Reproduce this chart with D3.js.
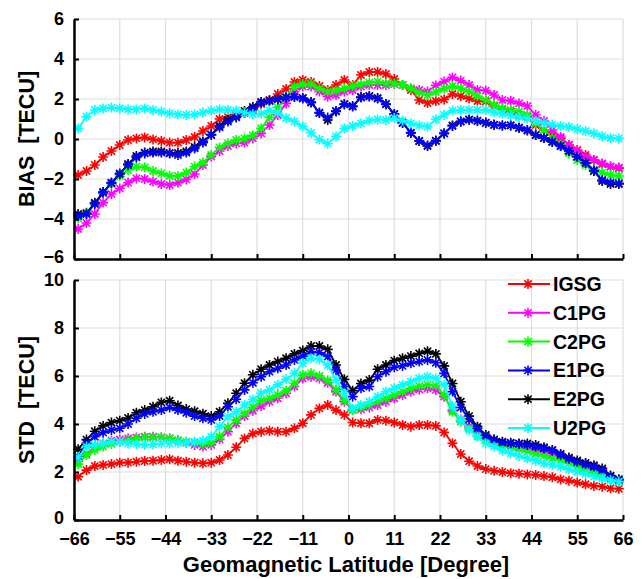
<!DOCTYPE html>
<html>
<head>
<meta charset="utf-8">
<script src="https://cdn.jsdelivr.net/npm/d3@7"></script>
<style>
  body { margin: 0; background: #fff; }
  text { font-family: "Liberation Sans", Arial, sans-serif; font-weight: bold; white-space: pre; }
</style>
</head>
<body>
<svg id="chart"></svg>
<script>
// Geomagnetic latitude of each sample
const lat = [-65,-63,-61,-59,-57,-55,-53,-51,-49,-47,-45,-43,-41,-39,-37,-35,-33,-31,-29,-27,-25,-23,
             -21,-19,-17,-15,-13,-11,-9,-7,-5,-3,-1,1,3,5,7,9,11,13,15,17,19,21,
             23,25,27,29,31,33,35,37,39,41,43,45,47,49,51,53,55,57,59,61,63,65];

const seriesNames = ["IGSG", "C1PG", "C2PG", "E1PG", "E2PG", "U2PG"];
const seriesColors = ["#ff0000", "#ff00ff", "#00ff00", "#0000ff", "#000000", "#00ffff"];

// BIAS [TECU]
const biasIGSG = [-1.8,-1.6,-1.3,-0.9,-0.6,-0.3,-0.05,0.03,0.08,-0.02,-0.1,-0.18,-0.18,-0.05,0.1,0.4,0.65,1.0,1.1,1.2,1.3,1.45,
                  1.75,1.95,2.25,2.5,2.85,2.95,2.85,2.65,2.45,2.7,2.95,2.7,3.2,3.35,3.35,3.25,3.0,2.7,2.45,1.95,1.8,1.9,
                  1.98,2.25,2.15,2.03,1.9,1.87,1.65,1.48,1.37,1.2,1.12,0.7,0.45,0.2,0.03,-0.3,-0.55,-0.8,-1.05,-1.25,-1.38,-1.47];
const biasC1PG = [-4.5,-4.2,-3.75,-3.18,-2.75,-2.47,-2.18,-1.97,-2.0,-2.13,-2.25,-2.3,-2.18,-2.02,-1.75,-1.3,-0.88,-0.6,-0.35,-0.22,-0.18,0.03,
                  0.28,0.7,1.2,1.78,2.37,2.62,2.62,2.37,2.12,2.2,2.37,2.45,2.62,2.7,2.7,2.7,2.75,2.7,2.53,2.45,2.37,2.68,
                  2.87,3.08,2.92,2.7,2.45,2.42,2.2,1.95,1.9,1.78,1.65,1.2,0.9,0.45,0.1,-0.3,-0.58,-0.88,-1.05,-1.22,-1.38,-1.43];
const biasC2PG = [-3.97,-3.68,-3.18,-2.72,-2.25,-1.85,-1.55,-1.38,-1.42,-1.6,-1.72,-1.85,-1.85,-1.68,-1.38,-1.18,-0.8,-0.42,-0.22,-0.05,0.03,0.18,
                  0.53,1.08,1.58,2.12,2.62,2.75,2.75,2.53,2.37,2.42,2.53,2.65,2.73,2.82,2.87,2.78,2.78,2.7,2.53,2.32,2.2,2.35,
                  2.53,2.65,2.53,2.37,2.15,1.95,1.7,1.53,1.45,1.37,1.2,0.78,0.45,0.03,-0.3,-0.72,-1.05,-1.3,-1.52,-1.68,-1.8,-1.85];
const biasE1PG = [-3.85,-3.75,-3.25,-2.68,-2.18,-1.72,-1.3,-0.92,-0.72,-0.68,-0.68,-0.72,-0.8,-0.68,-0.47,-0.18,0.2,0.58,0.87,1.08,1.32,1.52,
                  1.82,1.9,1.98,2.07,2.1,2.02,1.82,1.32,1.07,1.4,1.73,1.62,2.07,2.12,2.02,1.73,1.23,0.82,0.32,-0.1,-0.32,-0.1,
                  0.28,0.65,0.87,0.96,0.9,0.8,0.7,0.67,0.68,0.58,0.45,0.2,0.05,-0.13,-0.35,-0.58,-0.88,-1.18,-1.58,-2.05,-2.18,-2.22];
const biasE2PG = [-3.75,-3.72,-3.2,-2.65,-2.2,-1.75,-1.25,-0.85,-0.68,-0.62,-0.62,-0.7,-0.7,-0.62,-0.4,-0.12,0.22,0.65,0.95,1.12,1.4,1.6,
                  1.85,1.92,2.0,2.08,2.12,2.05,1.85,1.3,0.95,1.38,1.75,1.65,2.1,2.15,2.05,1.75,1.25,0.8,0.3,-0.1,-0.35,-0.08,
                  0.28,0.68,0.88,0.98,0.92,0.82,0.72,0.68,0.68,0.55,0.42,0.2,0.05,-0.15,-0.35,-0.6,-0.88,-1.2,-1.6,-2.1,-2.25,-2.25];
const biasU2PG = [0.53,1.12,1.45,1.53,1.57,1.53,1.48,1.48,1.53,1.45,1.37,1.28,1.23,1.2,1.23,1.32,1.42,1.48,1.45,1.42,1.32,1.24,
                  1.27,1.43,1.3,1.05,0.88,0.63,0.3,-0.03,-0.23,0.13,0.53,0.65,0.78,0.92,0.98,0.95,1.05,0.92,0.78,0.68,0.62,0.98,
                  1.2,1.42,1.45,1.45,1.45,1.45,1.35,1.27,1.18,1.1,1.02,0.9,0.8,0.72,0.65,0.6,0.5,0.4,0.28,0.14,0.05,0.03];

// STD [TECU]
const stdIGSG = [1.8,2.08,2.25,2.29,2.33,2.39,2.39,2.43,2.46,2.47,2.5,2.53,2.47,2.43,2.39,2.36,2.39,2.5,2.71,3.03,3.4,3.6,
                 3.68,3.72,3.68,3.68,3.82,4.03,4.38,4.65,4.79,4.58,4.38,4.06,4.03,4.03,4.17,4.14,4.06,3.96,3.89,3.96,3.96,3.92,
                 3.65,3.2,2.75,2.45,2.25,2.12,2.05,2.0,1.95,1.93,1.9,1.88,1.83,1.78,1.69,1.64,1.56,1.49,1.42,1.39,1.32,1.3];
const stdC1PG = [2.45,2.75,3.03,3.19,3.31,3.36,3.4,3.44,3.47,3.47,3.44,3.4,3.31,3.22,3.13,3.06,3.13,3.36,3.68,4.03,4.33,4.55,
                 4.75,4.93,5.07,5.28,5.56,5.9,5.97,5.9,5.72,5.35,4.93,4.58,4.61,4.69,4.79,4.93,5.07,5.21,5.35,5.44,5.49,5.42,
                 5.14,4.58,4.19,3.89,3.61,3.4,3.26,3.17,3.08,3.03,2.99,2.92,2.85,2.78,2.67,2.53,2.36,2.22,2.06,1.88,1.74,1.64];
const stdC2PG = [2.33,2.71,2.92,3.06,3.17,3.26,3.33,3.4,3.44,3.44,3.44,3.4,3.33,3.26,3.22,3.17,3.22,3.47,3.86,4.17,4.44,4.7,
                 4.97,5.07,5.21,5.39,5.69,6.04,6.11,6.0,5.81,5.42,5.0,4.58,4.69,4.79,4.93,5.07,5.21,5.35,5.49,5.58,5.63,5.6,
                 5.21,4.51,4.1,3.82,3.5,3.33,3.19,3.08,3.03,2.94,2.85,2.75,2.67,2.57,2.5,2.36,2.22,2.08,1.97,1.83,1.69,1.6];
const stdE1PG = [2.64,3.19,3.47,3.64,3.75,3.82,4.0,4.24,4.42,4.51,4.58,4.69,4.58,4.47,4.33,4.24,4.17,4.33,4.72,5.03,5.42,5.72,
                 5.97,6.18,6.32,6.46,6.67,6.83,7.01,6.97,6.81,6.25,5.56,5.14,5.49,5.56,5.97,6.18,6.36,6.42,6.53,6.6,6.67,6.55,
                 6.11,5.35,4.69,4.19,3.82,3.5,3.33,3.22,3.19,3.17,3.13,3.06,2.99,2.89,2.71,2.55,2.42,2.32,2.22,2.08,1.8,1.67];
const stdE2PG = [2.95,3.35,3.7,3.92,4.06,4.14,4.25,4.47,4.58,4.72,4.9,4.97,4.77,4.62,4.53,4.43,4.33,4.51,4.86,5.28,5.7,6.05,
                 6.28,6.46,6.6,6.74,6.92,7.06,7.25,7.25,7.11,6.46,5.86,5.39,5.69,5.83,6.28,6.46,6.64,6.74,6.83,6.94,7.03,6.92,
                 6.42,5.69,4.93,4.33,3.89,3.54,3.36,3.26,3.22,3.19,3.19,3.13,3.03,2.92,2.75,2.6,2.48,2.38,2.28,2.15,1.85,1.7];
const stdU2PG = [2.61,3.06,3.13,3.19,3.26,3.26,3.19,3.17,3.13,3.15,3.19,3.19,3.22,3.22,3.26,3.31,3.47,3.89,4.31,4.51,4.79,5.02,
                 5.28,5.42,5.63,5.86,6.11,6.53,6.74,6.69,6.46,5.83,5.28,4.65,4.79,4.93,5.14,5.35,5.49,5.63,5.76,5.9,5.97,5.9,
                 5.63,4.75,4.17,3.75,3.47,3.19,3.06,2.89,2.78,2.67,2.57,2.47,2.36,2.29,2.22,2.11,2.01,1.92,1.81,1.74,1.67,1.6];

const xTicks = [-66, -55, -44, -33, -22, -11, 0, 11, 22, 33, 44, 55, 66];
const biasTicks = [-6, -4, -2, 0, 2, 4, 6];
const stdTicks = [0, 2, 4, 6, 8, 10];

const biasSeries = [biasIGSG, biasC1PG, biasC2PG, biasE1PG, biasE2PG, biasU2PG];
const stdSeries = [stdIGSG, stdC1PG, stdC2PG, stdE1PG, stdE2PG, stdU2PG];

// Dimensions
const dimensions = {
    width: 644,
    height: 579,
    left: 74,
    right: 623,
    topPanel: { top: 19, bottom: 259 },
    bottomPanel: { top: 280, bottom: 520 },
};

const svg = d3.select("#chart")
    .attr("width", dimensions.width)
    .attr("height", dimensions.height);

const xScale = d3.scaleLinear()
    .domain([-66, 66])
    .range([dimensions.left, dimensions.right]);

// asterisk marker like matlab '*'
function starPath(r) {
    const d = r * 0.72;
    return `M${-r},0H${r}M0,${-r}V${r}M${-d},${-d}L${d},${d}M${-d},${d}L${d},${-d}`;
}

// draw order: black under blue
const drawOrder = [0, 1, 2, 4, 3, 5];

function drawPanel(panel, domain, ticks, series, yTitle, showXLabels) {
    const yScale = d3.scaleLinear()
        .domain(domain)
        .range([panel.bottom, panel.top]);

    const g = svg.append("g");

    // grid
    g.selectAll(".vgrid")
        .data(xTicks)
        .enter()
        .append("line")
        .attr("x1", d => xScale(d))
        .attr("x2", d => xScale(d))
        .attr("y1", panel.top)
        .attr("y2", panel.bottom)
        .attr("stroke", "#dedede")
        .attr("stroke-width", 1.2);

    g.selectAll(".hgrid")
        .data(ticks)
        .enter()
        .append("line")
        .attr("x1", dimensions.left)
        .attr("x2", dimensions.right)
        .attr("y1", d => yScale(d))
        .attr("y2", d => yScale(d))
        .attr("stroke", "#dedede")
        .attr("stroke-width", 1.2);

    // series
    const line = d3.line()
        .x((d, i) => xScale(lat[i]))
        .y(d => yScale(d));

    drawOrder.forEach(k => {
        const values = series[k];
        g.append("path")
            .datum(values)
            .attr("d", line)
            .attr("fill", "none")
            .attr("stroke", seriesColors[k])
            .attr("stroke-width", 1.8);

        g.selectAll(null)
            .data(values)
            .enter()
            .append("path")
            .attr("d", starPath(5))
            .attr("transform", (d, i) => `translate(${xScale(lat[i])},${yScale(d)})`)
            .attr("fill", "none")
            .attr("stroke", seriesColors[k])
            .attr("stroke-width", 1.6);
    });

    // axes
    const yAxis = g.append("g")
        .attr("transform", `translate(${dimensions.left},0)`)
        .call(d3.axisLeft(yScale).tickValues(ticks).tickSize(-5).tickSizeOuter(0).tickPadding(10));

    const xAxis = g.append("g")
        .attr("transform", `translate(0,${panel.bottom})`)
        .call(d3.axisBottom(xScale).tickValues(xTicks).tickSize(-5).tickSizeOuter(0).tickPadding(12));

    [yAxis, xAxis].forEach(a => {
        a.select(".domain").attr("stroke", "#000").attr("stroke-width", 2.5);
        a.selectAll(".tick line").attr("stroke", "#000").attr("stroke-width", 2);
        a.selectAll("text")
            .attr("fill", "#000")
            .style("font-size", "18px")
            .style("font-family", "'Liberation Sans', Arial, sans-serif")
            .style("font-weight", "bold");
    });

    // lowest y label sits just above the first x label, as in the original
    yAxis.selectAll(".tick text").filter(d => d === domain[0]).attr("dy", "0.2em");

    if (!showXLabels) {
        xAxis.selectAll("text").remove();
    }

    g.append("text")
        .attr("transform", `translate(34,${(panel.top + panel.bottom) / 2}) rotate(-90)`)
        .attr("text-anchor", "middle")
        .style("font-size", "21.5px")
        .attr("fill", "#000")
        .text(yTitle);

    return yScale;
}

drawPanel(dimensions.topPanel, [-6, 6], biasTicks, biasSeries, "BIAS  [TECU]", false);
drawPanel(dimensions.bottomPanel, [0, 10], stdTicks, stdSeries, "STD  [TECU]", true);

// x axis title
svg.append("text")
    .attr("x", 346)
    .attr("y", 572)
    .attr("text-anchor", "middle")
    .style("font-size", "22px")
    .attr("fill", "#000")
    .text("Geomagnetic Latitude [Degree]");

// legend
const legend = svg.append("g")
    .attr("transform", "translate(508,284)");

seriesNames.forEach((name, i) => {
    const row = legend.append("g")
        .attr("transform", `translate(0,${i * 28.8})`);
    row.append("line")
        .attr("x1", 0)
        .attr("x2", 42)
        .attr("stroke", seriesColors[i])
        .attr("stroke-width", 2);
    row.append("path")
        .attr("d", starPath(5))
        .attr("transform", "translate(20,0)")
        .attr("fill", "none")
        .attr("stroke", seriesColors[i])
        .attr("stroke-width", 1.6);
    row.append("text")
        .attr("x", 45)
        .attr("y", 7)
        .style("font-size", "19.5px")
        .attr("fill", "#000")
        .text(name);
});
</script>
</body>
</html>
